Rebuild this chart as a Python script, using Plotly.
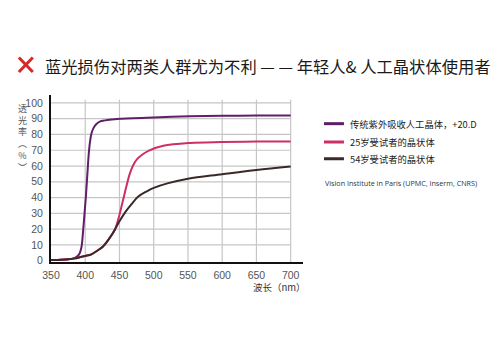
import plotly.graph_objects as go

# ---------------- data ----------------
x_ticks = [350, 400, 450, 500, 550, 600, 650, 700]
y_ticks = [0, 10, 20, 30, 40, 50, 60, 70, 80, 90, 100]

purple_nm = [350, 365, 375, 385, 391, 394.6, 397, 399, 401, 403, 405, 407, 409, 412, 416, 422, 435, 451, 500, 553, 600, 650, 700]
purple_t = [0.4, 0.6, 0.9, 1.8, 4, 8.9, 19.5, 30, 41, 54, 67, 75.5, 80.5, 84, 86.5, 88.3, 89.3, 90, 90.8, 91.5, 91.8, 92, 92]

young_nm = [350, 365, 375, 385, 392, 400, 409, 418, 426, 435, 443, 447, 450.5, 455, 460, 465, 470, 476, 484, 493, 514, 553, 600, 650, 700]
young_t = [0.4, 0.6, 0.9, 1.5, 2.2, 3, 4, 6.5, 9, 14, 19.5, 24.5, 30, 38, 47, 55, 60.5, 64.5, 67.5, 69.8, 72.8, 74.6, 75.2, 75.5, 75.6]

old_nm = [350, 365, 375, 385, 392, 400, 409, 418, 426, 435, 443, 450, 458, 467, 477, 490, 501, 520, 550, 600, 650, 700]
old_t = [0.4, 0.6, 0.9, 1.5, 2.2, 3, 4, 6.5, 9, 14, 19.5, 25, 30.5, 35.5, 40.5, 44, 46.3, 49, 52, 54.8, 57.5, 59.7]

series_names = ["传统紫外吸收人工晶体，+20.D", "25岁受试者的晶状体", "54岁受试者的晶状体"]
series_colors = ["#5e1f66", "#cc2f66", "#3d2828"]

title_text = "蓝光损伤对两类人群尤为不利 — — 年轻人& 人工晶状体使用者"
source_text = "Vision Institute in Paris (UPMC, Inserm, CNRS)"
x_title = "波长（nm）"
y_title_chars = ["透", "光", "率", "︵", "%", "︶"]

CJK = "Noto Sans CJK SC, Noto Sans, sans-serif"
NARROW = "Liberation Sans Narrow, Arial Narrow, Liberation Sans, sans-serif"

fig = go.Figure()
for xs, ys, name, col, sm in zip([purple_nm, young_nm, old_nm], [purple_t, young_t, old_t],
                                 series_names, series_colors, [0.8, 1.0, 1.0]):
    fig.add_trace(go.Scatter(x=xs, y=ys, mode="lines", name=name, showlegend=False,
                             line=dict(color=col, width=2, shape="spline", smoothing=sm),
                             hoverinfo="skip"))

# plot geometry (px)
L, R, T, B = 50.7, 303.0, 95.4, 262.0
W, H = R - L, B - T


def px2paper(px, py):
    return (px - L) / W, (B - py) / H


shapes = []
# gridlines
for yv in y_ticks[1:]:
    shapes.append(dict(type="line", xref="x", yref="y", x0=350, x1=700, y0=yv, y1=yv,
                       line=dict(color="#c6c6c6", width=1.2), layer="below"))
for xv in x_ticks[1:]:
    shapes.append(dict(type="line", xref="x", yref="y", x0=xv, x1=xv, y0=-0.8, y1=102,
                       line=dict(color="#c6c6c6", width=1.2), layer="below"))

# red cross icon
for (ax0, ay0, ax1, ay1) in [(18.5, 58, 32.5, 72.5), (18.5, 72.5, 32.5, 58)]:
    p0 = px2paper(ax0, ay0)
    p1 = px2paper(ax1, ay1)
    shapes.append(dict(type="line", xref="paper", yref="paper", x0=p0[0], y0=p0[1], x1=p1[0], y1=p1[1],
                       line=dict(color="#d42a2a", width=3)))

annotations = []
# legend
legend_y = [124, 142.3, 159]
for name, col, ly in zip(series_names, series_colors, legend_y):
    a = px2paper(324, ly)
    b = px2paper(344, ly)
    shapes.append(dict(type="line", xref="paper", yref="paper", x0=a[0], x1=b[0], y0=a[1], y1=a[1],
                       line=dict(color=col, width=3)))
    t = px2paper(348, ly)
    annotations.append(dict(xref="paper", yref="paper", x=t[0], y=t[1], text=name, showarrow=False,
                            xanchor="left", yanchor="middle",
                            font=dict(family=CJK, size=9.3, color="#222222")))

s = px2paper(323, 183)
annotations.append(dict(xref="paper", yref="paper", x=s[0], y=s[1], text=source_text, showarrow=False,
                        xanchor="left", yanchor="middle",
                        font=dict(family="Open Sans, Noto Sans, sans-serif", size=7.2, color="#333333")))

# title
tt = px2paper(43, 66)
annotations.append(dict(xref="paper", yref="paper", x=tt[0], y=tt[1], text=title_text, showarrow=False,
                        xanchor="left", yanchor="middle",
                        font=dict(family=CJK, size=16.3, color="#1a1a1a")))

# x axis title
xt = px2paper(279, 287)
annotations.append(dict(xref="paper", yref="paper", x=xt[0], y=xt[1], text=x_title, showarrow=False,
                        xanchor="center", yanchor="middle",
                        font=dict(family=CJK, size=9.5, color="#333333")))

# y axis title (vertical stacked)
yt = px2paper(22, 100)
annotations.append(dict(xref="paper", yref="paper", x=yt[0], y=yt[1], text="<br>".join(y_title_chars),
                        showarrow=False, xanchor="center", yanchor="top",
                        font=dict(family=CJK, size=9, color="#555555")))

fig.update_layout(
    width=500, height=340,
    margin=dict(l=L, r=500 - R, t=T, b=340 - B, pad=0),
    paper_bgcolor="white", plot_bgcolor="white",
    shapes=shapes, annotations=annotations,
    xaxis=dict(range=[350, 718], tickvals=x_ticks, ticktext=[str(v) for v in x_ticks],
               showgrid=False, zeroline=False, showline=True, linecolor="#111111", linewidth=2,
               ticks="", ticklabelstandoff=2,
               tickfont=dict(family=NARROW, size=10.5, color="#555555")),
    yaxis=dict(range=[-0.8, 105], tickvals=y_ticks, ticktext=[str(v) for v in y_ticks],
               showgrid=False, zeroline=False, showline=True, linecolor="#111111", linewidth=2,
               ticks="", ticklabelstandoff=4,
               tickfont=dict(family=NARROW, size=10.5, color="#555555")),
    showlegend=False,
)

fig.write_html("out.html")
